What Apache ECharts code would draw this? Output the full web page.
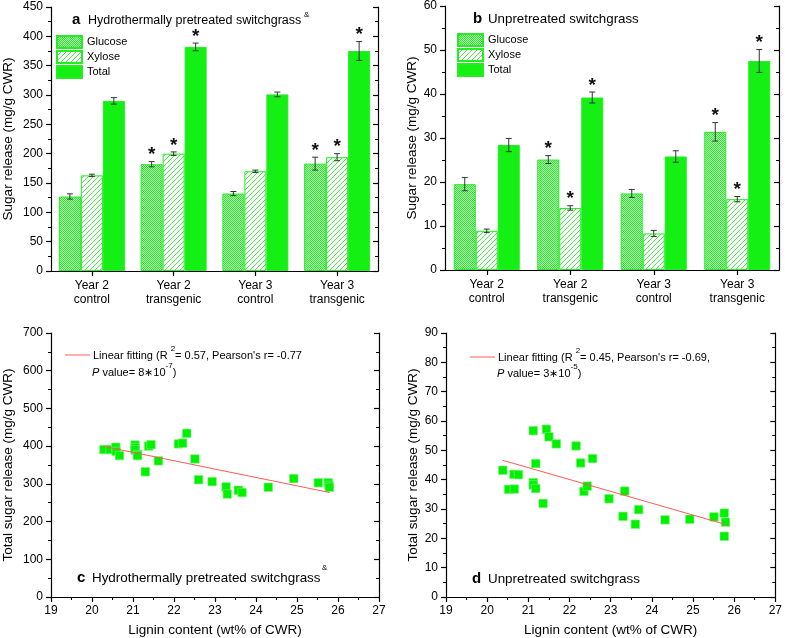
<!DOCTYPE html>
<html><head><meta charset="utf-8">
<script src="https://cdn.jsdelivr.net/npm/echarts@6/dist/echarts.min.js"></script>
<style>html,body{margin:0;padding:0;background:#fff}#c{width:785px;height:638px}</style>
</head><body><div id="c"></div>
<script>
// ---- data ----
const categories = ['Year 2\ncontrol', 'Year 2\ntransgenic', 'Year 3\ncontrol', 'Year 3\ntransgenic'];
const seriesNames = ['Glucose', 'Xylose', 'Total'];
// panel a: hydrothermally pretreated
const glucoseA = [127, 182, 132, 183];
const glucoseAErr = [4.5, 4.5, 3.5, 11];
const xyloseA = [163, 200, 170, 194];
const xyloseAErr = [2, 3, 2, 6];
const totalA = [290, 382, 301, 375];
const totalAErr = [5.5, 6.5, 4, 16];
// panel b: unpretreated
const glucoseB = [19.5, 25.1, 17.4, 31.4];
const glucoseBErr = [1.5, 0.9, 0.9, 2.1];
const xyloseB = [8.9, 14.1, 8.3, 16.1];
const xyloseBErr = [0.4, 0.5, 0.7, 0.6];
const totalB = [28.4, 39.2, 25.8, 47.5];
const totalBErr = [1.5, 1.25, 1.3, 2.6];
// significance flags (asterisks)
const starsGlucose = [0, 1, 0, 1];
const starsXylose = [0, 1, 0, 1];
const starsTotal = [0, 1, 0, 1];
// panel c: lignin vs total sugar (pretreated)
const ligninC = [20.29, 20.44, 20.58, 20.59, 20.67, 21.05, 21.05, 21.05, 21.11, 21.11, 21.30, 21.38, 21.44, 21.62, 22.11, 22.21, 22.31, 22.51, 22.60, 22.93, 23.27, 23.30, 23.57, 23.66, 24.30, 24.92, 25.52, 25.76, 25.78, 25.79];
const sugarC = [391, 391, 397, 386, 375, 403, 396, 390, 378, 375, 332, 400, 404, 361, 406, 408, 434, 366, 311, 306, 292, 273, 283, 277, 291, 314, 303, 303, 296, 291];
const fitC = [[20.28, 399.5], [25.8, 277]];
// panel d: lignin vs total sugar (unpretreated)
const ligninD = [20.38, 20.52, 20.66, 20.65, 20.76, 21.12, 21.12, 21.12, 21.18, 21.18, 21.36, 21.44, 21.50, 21.68, 22.16, 22.27, 22.35, 22.43, 22.56, 22.96, 23.30, 23.34, 23.60, 23.68, 24.32, 24.92, 25.51, 25.76, 25.79, 25.76];
const sugarD = [43.2, 36.7, 36.8, 41.8, 41.7, 56.7, 39.0, 38.2, 45.5, 37.0, 31.9, 57.2, 54.6, 52.2, 51.5, 45.7, 36.0, 37.8, 47.2, 33.5, 27.5, 36.1, 24.8, 29.8, 26.3, 26.5, 27.3, 28.6, 25.5, 20.7];
const fitD = [[20.38, 46.6], [25.8, 24.7]];

// ---- styles ----
const FONT = 'Liberation Sans, Arial, sans-serif';
const GREEN = '#14f014';
function checkPattern() {
  const c = document.createElement('canvas'); c.width = 2; c.height = 2;
  const g = c.getContext('2d');
  g.fillStyle = '#c4ffc4'; g.fillRect(0, 0, 2, 2);
  g.fillStyle = '#20ee20'; g.fillRect(0, 0, 1, 1); g.fillRect(1, 1, 1, 1);
  return { image: c, repeat: 'repeat' };
}
function hatchPattern() {
  const n = 5;
  const c = document.createElement('canvas'); c.width = n; c.height = n;
  const g = c.getContext('2d');
  g.fillStyle = '#ffffff'; g.fillRect(0, 0, n, n);
  g.fillStyle = '#44f044';
  for (let i = 0; i < n; i++) g.fillRect(i, n - 1 - i, 1, 1);
  return { image: c, repeat: 'repeat' };
}
const patGlucose = checkPattern();
const patXylose = hatchPattern();

const axisLine = { show: true, lineStyle: { color: '#000', width: 1.2 } };
const tickOut = { show: true, length: 5, lineStyle: { color: '#000', width: 1.2 } };
const tickIn = { show: true, inside: true, length: 5, lineStyle: { color: '#000', width: 1.2 } };
const minorOut = { show: true, splitNumber: 2, length: 3, lineStyle: { color: '#000', width: 1 } };
const lbl = { color: '#000', fontSize: 12, fontFamily: FONT, margin: 8 };
const nameStyle = { color: '#000', fontSize: 13.5, fontFamily: FONT };

function leftY(gi, max, interval, name, gap) {
  return { gridIndex: gi, type: 'value', min: 0, max: max, interval: interval, position: 'left',
    axisLine: axisLine, axisTick: tickOut, minorTick: minorOut, splitLine: { show: false },
    axisLabel: lbl, name: name, nameLocation: 'middle', nameGap: gap, nameTextStyle: nameStyle };
}
function rightY(gi, max, interval) {
  return { gridIndex: gi, type: 'value', min: 0, max: max, interval: interval, position: 'right',
    axisLine: axisLine, axisTick: tickIn,
    minorTick: { show: true, splitNumber: 2, length: 3, lineStyle: { color: '#000', width: 1 } },
    splitLine: { show: false }, axisLabel: { show: false } };
}
function catX(gi) {
  return { gridIndex: gi, type: 'category', data: categories, position: 'bottom',
    axisLine: axisLine, axisTick: Object.assign({ alignWithLabel: true }, tickOut),
    axisLabel: Object.assign({}, lbl, { lineHeight: 14, interval: 0 }) };
}
function topX(gi, cat) {
  const o = { gridIndex: gi, position: 'top', axisLine: axisLine, axisTick: { show: false },
    axisLabel: { show: false }, splitLine: { show: false } };
  if (cat) { o.type = 'category'; o.data = categories; } else { o.type = 'value'; o.min = 19; o.max = 27; o.interval = 1; }
  return o;
}
function valX(gi) {
  return { gridIndex: gi, type: 'value', min: 19, max: 27, interval: 1, position: 'bottom',
    axisLine: axisLine, axisTick: tickOut, minorTick: minorOut, splitLine: { show: false },
    axisLabel: lbl, name: 'Lignin content (wt% of CWR)', nameLocation: 'middle', nameGap: 26, nameTextStyle: nameStyle };
}

function barSeries(name, xi, yi, data, color) {
  return { type: 'bar', name: name, xAxisIndex: xi, yAxisIndex: yi, data: data,
    barWidth: 22, barGap: '0%',
    itemStyle: { color: color, borderColor: '#22ee22', borderWidth: 1 } };
}
function errSeries(xi, yi, vals, errs, stars, off) {
  return { type: 'custom', xAxisIndex: xi, yAxisIndex: yi, z: 5, silent: true,
    data: vals.map((v, i) => [i, v, errs[i], stars[i]]),
    encode: { x: 0, y: 1 },
    renderItem: function (params, api) {
      const i = api.value(0), v = api.value(1), e = api.value(2), s = api.value(3);
      const c = api.coord([i, v]);
      const x = c[0] + off;
      const yt = api.coord([i, v + e])[1], yb = api.coord([i, v - e])[1];
      const st = { stroke: '#333', lineWidth: 1 };
      const ch = [
        { type: 'line', shape: { x1: x, y1: yt, x2: x, y2: yb }, style: st },
        { type: 'line', shape: { x1: x - 3, y1: yt, x2: x + 3, y2: yt }, style: st },
        { type: 'line', shape: { x1: x - 3, y1: yb, x2: x + 3, y2: yb }, style: st }
      ];
      if (s) ch.push({ type: 'text', style: { text: '*', x: x, y: yt + 3, align: 'center', verticalAlign: 'bottom',
        font: 'bold 19px ' + FONT, fill: '#111' } });
      return { type: 'group', children: ch };
    } };
}

const chart = echarts.init(document.getElementById('c'), null, { renderer: 'canvas' });
const txt = (x, y, text, size, extra) => Object.assign({ type: 'text', x: x, y: y,
  style: Object.assign({ text: text, font: size + 'px ' + FONT, fill: '#000', verticalAlign: 'middle' }, (extra || {})) });
// rich styles for legend-like texts with superscripts
const richFit = {
  n: { fontSize: 11, fontFamily: FONT, color: '#000', lineHeight: 17, verticalAlign: 'bottom' },
  i: { fontSize: 11, fontFamily: FONT, color: '#000', fontStyle: 'italic', lineHeight: 17, verticalAlign: 'bottom' },
  s: { fontSize: 8, fontFamily: FONT, color: '#000', lineHeight: 9, verticalAlign: 'top' }
};
const richAmp = {
  n: { fontSize: 13, fontFamily: FONT, color: '#000', lineHeight: 20, verticalAlign: 'bottom' },
  s: { fontSize: 8, fontFamily: FONT, color: '#000', lineHeight: 9, verticalAlign: 'top' }
};

const option = {
  animation: false,
  backgroundColor: '#fff',
  grid: [
    { left: 50, top: 7, width: 328, height: 264 },
    { left: 445, top: 6, width: 334, height: 264 },
    { left: 51, top: 333, width: 328, height: 264 },
    { left: 446, top: 333, width: 334, height: 264 }
  ],
  xAxis: [catX(0), topX(0, true), catX(1), topX(1, true), valX(2), topX(2, false), valX(3), topX(3, false)],
  yAxis: [
    leftY(0, 450, 50, 'Sugar release (mg/g CWR)', 36), rightY(0, 450, 50),
    leftY(1, 60, 10, 'Sugar release (mg/g CWR)', 26), rightY(1, 60, 10),
    leftY(2, 700, 100, 'Total sugar release (mg/g CWR)', 36), rightY(2, 700, 100),
    leftY(3, 90, 10, 'Total sugar release (mg/g CWR)', 26), rightY(3, 90, 10)
  ],
  legend: [
    { data: seriesNames, orient: 'vertical', left: 56, top: 35, padding: 0, itemWidth: 25, itemHeight: 12, itemGap: 1,
      icon: 'rect', textStyle: { fontSize: 11, fontFamily: FONT, color: '#000' }, selectedMode: false },
    { data: seriesNames, orient: 'vertical', left: 457, top: 33, padding: 0, itemWidth: 25, itemHeight: 12, itemGap: 1,
      icon: 'rect', textStyle: { fontSize: 11, fontFamily: FONT, color: '#000' }, selectedMode: false }
  ],
  series: [
    barSeries('Glucose', 0, 0, glucoseA, patGlucose),
    barSeries('Xylose', 0, 0, xyloseA, patXylose),
    barSeries('Total', 0, 0, totalA, GREEN),
    errSeries(0, 0, glucoseA, glucoseAErr, starsGlucose, -22),
    errSeries(0, 0, xyloseA, xyloseAErr, starsXylose, 0),
    errSeries(0, 0, totalA, totalAErr, starsTotal, 22),
    barSeries('Glucose', 2, 2, glucoseB, patGlucose),
    barSeries('Xylose', 2, 2, xyloseB, patXylose),
    barSeries('Total', 2, 2, totalB, GREEN),
    errSeries(2, 2, glucoseB, glucoseBErr, starsGlucose, -22),
    errSeries(2, 2, xyloseB, xyloseBErr, starsXylose, 0),
    errSeries(2, 2, totalB, totalBErr, starsTotal, 22),
    { type: 'scatter', xAxisIndex: 4, yAxisIndex: 4, symbol: 'rect', symbolSize: 8.5,
      itemStyle: { color: '#00f000', borderColor: '#7cf77c', borderWidth: 0.6, opacity: 1 },
      data: ligninC.map((x, i) => [x, sugarC[i]]) },
    { type: 'line', xAxisIndex: 4, yAxisIndex: 4, data: fitC, symbol: 'none', z: 3,
      lineStyle: { color: '#ff5a5a', width: 1 } },
    { type: 'scatter', xAxisIndex: 6, yAxisIndex: 6, symbol: 'rect', symbolSize: 8.5,
      itemStyle: { color: '#00f000', borderColor: '#7cf77c', borderWidth: 0.6, opacity: 1 },
      data: ligninD.map((x, i) => [x, sugarD[i]]) },
    { type: 'line', xAxisIndex: 6, yAxisIndex: 6, data: fitD, symbol: 'none', z: 3,
      lineStyle: { color: '#ff5a5a', width: 1 } }
  ],
  graphic: [
    // panel a title
    txt(72, 20, 'a', 15, { font: 'bold 15px ' + FONT }),
    txt(88, 21, 'Hydrothermally pretreated switchgrass', 12.5),
    txt(304, 15, '&', 8),
    // panel b title
    txt(473, 19, 'b', 15, { font: 'bold 15px ' + FONT }),
    txt(488, 19, 'Unpretreated switchgrass', 13.3),
    // panel c
    { type: 'line', shape: { x1: 65, y1: 355, x2: 90, y2: 355 }, style: { stroke: '#ff5a5a', lineWidth: 1 } },
    txt(93, 353, '{n|Linear fitting (R }{s|2}{n|= 0.57, Pearson\'s r= -0.77}', 11, { rich: richFit }),
    txt(92, 370, '{i|P}{n| value= 8∗10}{s|-7}{n|)}', 11, { rich: richFit }),
    txt(77, 578, 'c', 15, { font: 'bold 15px ' + FONT }),
    txt(92, 578, 'Hydrothermally pretreated switchgrass', 13.4),
    txt(322, 568, '&', 8),
    // panel d
    { type: 'line', shape: { x1: 470, y1: 357, x2: 495, y2: 357 }, style: { stroke: '#ff5a5a', lineWidth: 1 } },
    txt(498, 355, '{n|Linear fitting (R }{s|2}{n|= 0.45, Pearson\'s r= -0.69,}', 11, { rich: richFit }),
    txt(497, 371, '{i|P}{n| value= 3∗10}{s|-5}{n|)}', 11, { rich: richFit }),
    txt(472, 579, 'd', 15, { font: 'bold 15px ' + FONT }),
    txt(488, 579, 'Unpretreated switchgrass', 13.4)
  ]
};
chart.setOption(option);
</script>
</body></html>
